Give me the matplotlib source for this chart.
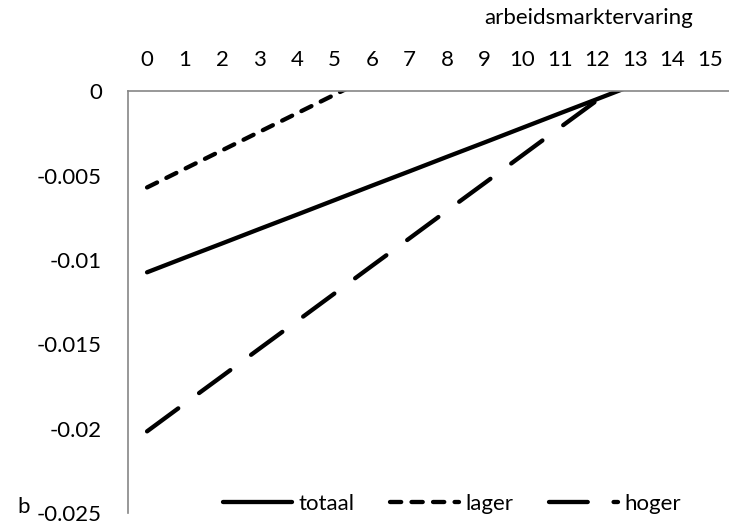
import matplotlib
matplotlib.use("Agg")
import matplotlib.pyplot as plt

plt.rcParams['font.family'] = ['Lato', 'DejaVu Sans']

categories = list(range(0, 16))
cat_labels = [str(c) for c in categories]

totaal = [-0.01073, -0.00987, -0.00902, -0.00816, -0.00731, -0.00645, -0.00559,
          -0.00474, -0.00388, -0.00303, -0.00217, -0.00131, -0.00046, 0.00040]
lager = [-0.00570, -0.00460, -0.00350, -0.00240, -0.00130, -0.00020, 0.00090]
hoger = [-0.02016, -0.01852, -0.01689, -0.01525, -0.01362, -0.01198, -0.01034,
         -0.00871, -0.00707, -0.00544, -0.00380, -0.00216, -0.00053, 0.00111]

y_ticks = [0, -0.005, -0.01, -0.015, -0.02, -0.025]
y_labels = ["0", "-0.005", "-0.01", "-0.015", "-0.02", "-0.025"]

W, H = 729, 528
fig = plt.figure(figsize=(W / 100, H / 100), dpi=100)
ax = fig.add_axes([128.3 / W, 1 - 513 / H, (728.5 - 128.3) / W, (513 - 91.3) / H])

fs = 16
lw = 3.1
ax.plot(categories[:len(totaal)], totaal, color='black', lw=lw, solid_capstyle='round',
        label='totaal')
ax.plot(categories[:len(lager)], lager, color='black', lw=lw, dashes=(2.6, 2.4),
        dash_capstyle='round', label='lager')
ax.plot(categories[:len(hoger)], hoger, color='black', lw=lw, dashes=(9, 6),
        dash_capstyle='round', label='hoger')

ax.set_xlim(-0.5, 15.5)
ax.set_ylim(-0.025, 0)
ax.xaxis.tick_top()
ax.set_xticks(categories)
ax.set_xticklabels(cat_labels, fontsize=fs)
ax.set_yticks(y_ticks)
ax.set_yticklabels(y_labels, fontsize=fs)
ax.tick_params(axis='x', length=0, pad=15)
ax.tick_params(axis='y', length=0, pad=19)

for s in ['right', 'bottom']:
    ax.spines[s].set_visible(False)
for s in ['left', 'top']:
    ax.spines[s].set_color('#868686')
    ax.spines[s].set_linewidth(1.2)

fig.text(589 / W, 1 - 18 / H, 'arbeidsmarktervaring', fontsize=fs, ha='center', va='center')
fig.text(24 / W, 1 - 507 / H, 'b', fontsize=fs, ha='center', va='center')

leg = fig.legend(loc='center', bbox_to_anchor=(452 / W, 1 - 504 / H), ncol=3,
                 frameon=False, fontsize=fs, handlelength=3.1, handletextpad=0.3,
                 columnspacing=1.6)

fig.savefig('out.png', dpi=100)
